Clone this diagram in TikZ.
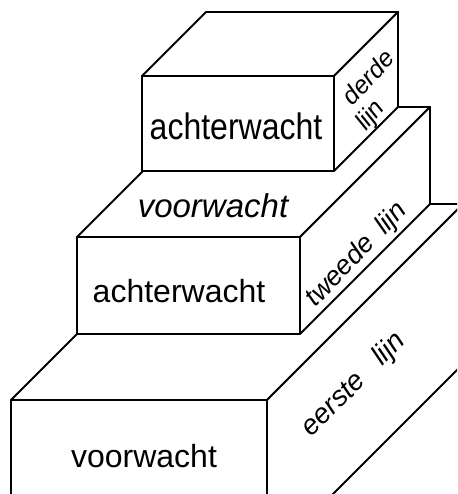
\documentclass[tikz,border=0pt]{standalone}
\usepackage{graphicx}
\usepackage{fontspec}
\setmainfont{Liberation Sans}
\tikzset{
  face/.style={fill=white, draw=black, line width=1.8pt, line join=round},
  frontlabel/.style={anchor=base, inner sep=0pt, font=\fontsize{32}{36}\selectfont},
  toplabel/.style={anchor=base, inner sep=0pt, font=\fontsize{33}{36}\selectfont\itshape},
  sidelabel/.style={inner sep=0pt, font=\fontsize{28}{30}\selectfont\itshape}
}
\begin{document}
\begin{tikzpicture}[x=1pt, y=-1pt]
\useasboundingbox (0,0) rectangle (457,494);
\clip (0,0) rectangle (457,494);
% bottom box (eerste lijn)
\filldraw[face] (11,400) -- (207,204) -- (463,204) -- (267,400) -- cycle;
\filldraw[face] (11,400) rectangle (267,560);
\filldraw[face] (267,400) -- (463,204) -- (463,364) -- (267,560) -- cycle;
% middle box (tweede lijn)
\filldraw[face] (77,237) -- (207,107) -- (430,107) -- (300,237) -- cycle;
\filldraw[face] (77,237) rectangle (300,334);
\filldraw[face] (300,237) -- (430,107) -- (430,204) -- (300,334) -- cycle;
% top box (derde lijn)
\filldraw[face] (142,76) -- (206,12) -- (398,12) -- (334,76) -- cycle;
\filldraw[face] (142,76) rectangle (334,171);
\filldraw[face] (334,76) -- (398,12) -- (398,107) -- (334,171) -- cycle;
% labels
\node[frontlabel] (a1) at (236,140) {\scalebox{1}[1.15]{achterwacht}};
\node[toplabel] (v2) at (213,217) {voorwacht};
\node[frontlabel] (a2) at (179,302) {achterwacht};
\node[frontlabel] (v1) at (144,467) {voorwacht};
\node[sidelabel, rotate=47, font=\fontsize{25}{28}\selectfont\itshape] (d1) at (368,77) {derde};
\node[sidelabel, rotate=50, font=\fontsize{25}{28}\selectfont\itshape] (d2) at (371,116) {lijn};
\node[sidelabel, rotate=46, font=\fontsize{27}{30}\selectfont\itshape] (t1) at (357,255) {tweede\hspace{13pt}lijn};
\node[sidelabel, rotate=45] (e1) at (354,385) {eerste\hspace{22pt}lijn};
\end{tikzpicture}
\end{document}
